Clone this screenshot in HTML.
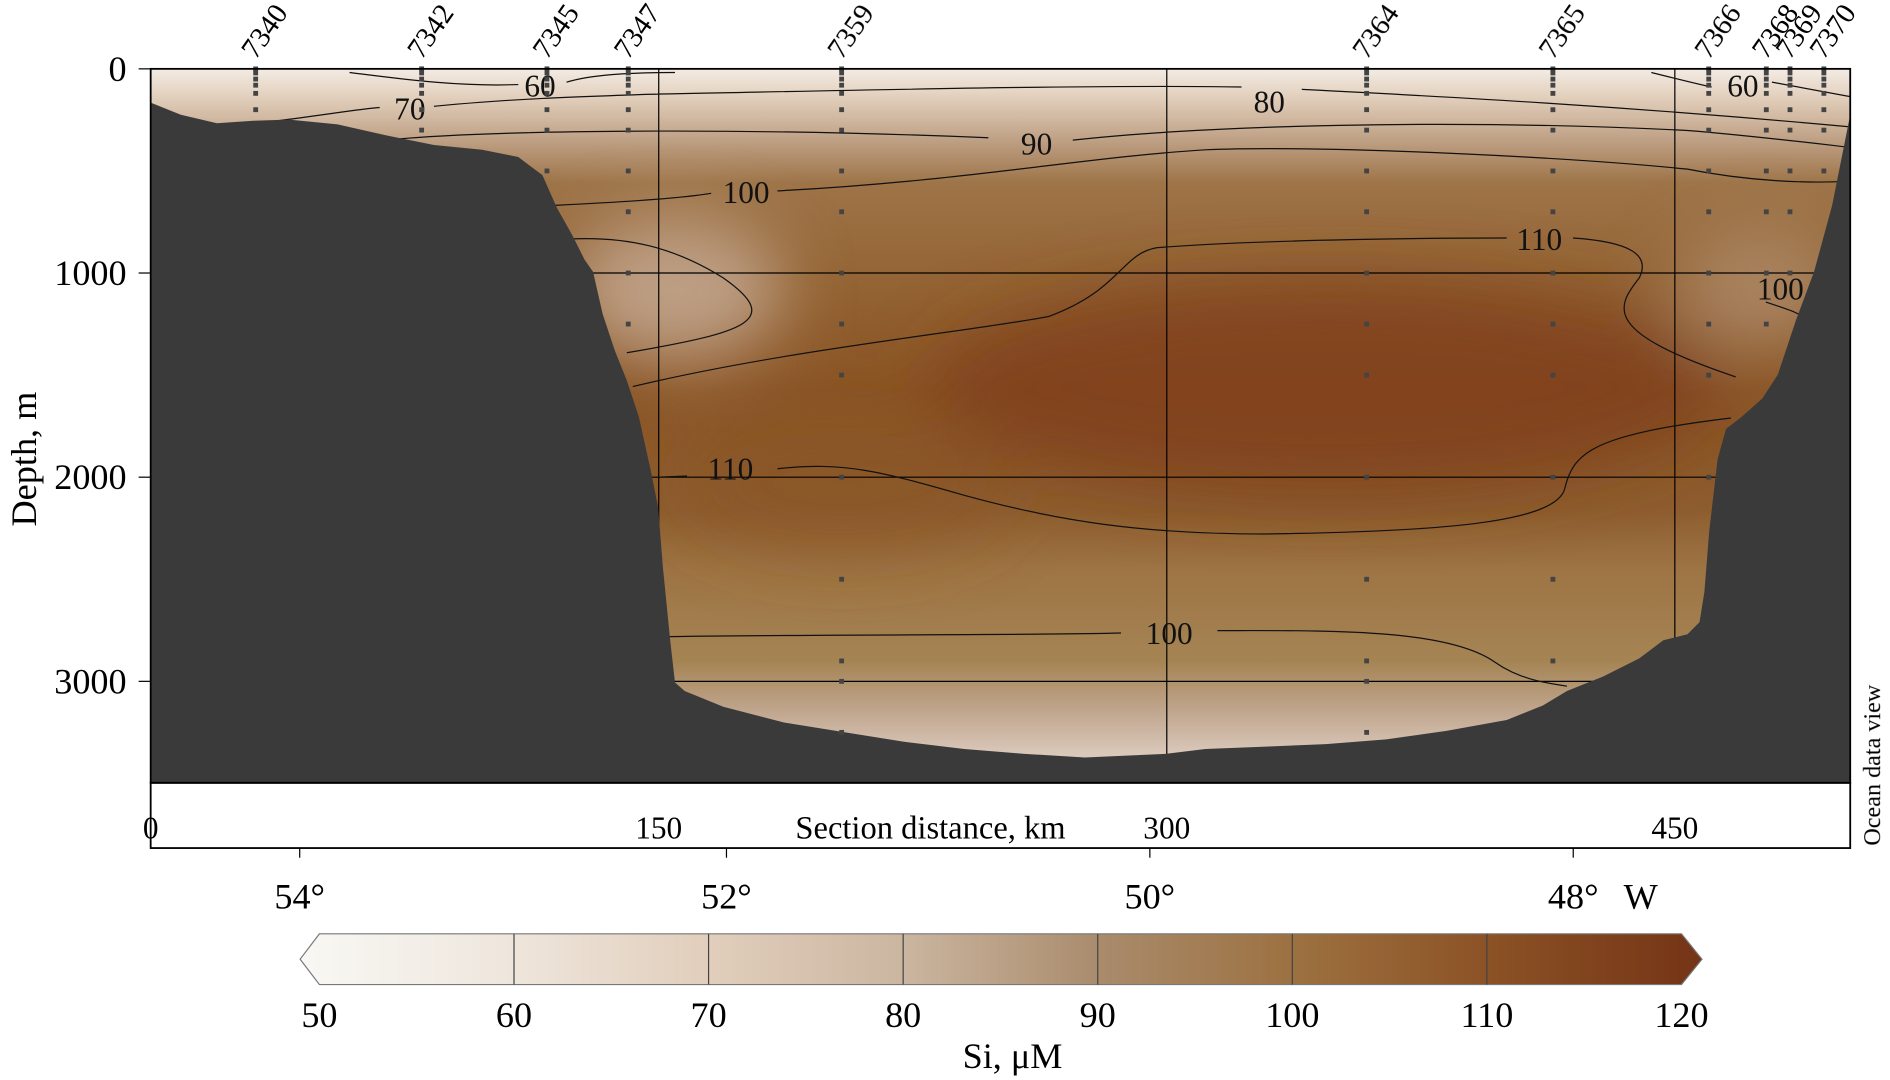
<!DOCTYPE html>
<html><head><meta charset="utf-8"><style>
html,body{margin:0;padding:0;background:#fff;}
svg{display:block;font-family:"Liberation Serif",serif;}
</style></head><body>
<svg id="chart" width="1890" height="1080" viewBox="0 0 1568 894" preserveAspectRatio="none" xmlns="http://www.w3.org/2000/svg">
<defs>
<clipPath id="plotClip"><rect x="125" y="57" width="1410" height="591"/></clipPath>
<filter id="blur" x="-20%" y="-20%" width="140%" height="140%"><feGaussianBlur stdDeviation="28"/></filter>
<linearGradient id="cbar" x1="0" x2="1" y1="0" y2="0">
<stop offset="0" stop-color="#f8f8f4"/><stop offset="0.143" stop-color="#efe7de"/>
<stop offset="0.286" stop-color="#e2cfbd"/><stop offset="0.429" stop-color="#cbb6a0"/>
<stop offset="0.571" stop-color="#a98b6c"/><stop offset="0.714" stop-color="#9c703f"/>
<stop offset="0.857" stop-color="#8a5024"/><stop offset="1" stop-color="#743416"/>
</linearGradient>
<linearGradient id="vgrad" x1="0" x2="0" y1="0" y2="1">
<stop offset="0" stop-color="#f3ece4"/><stop offset="0.04" stop-color="#e2cfbc"/>
<stop offset="0.1" stop-color="#bea084"/><stop offset="0.16" stop-color="#9e7448"/>
<stop offset="0.3" stop-color="#946434"/><stop offset="0.45" stop-color="#8a5424"/>
<stop offset="0.62" stop-color="#8e5e30"/><stop offset="0.7" stop-color="#9e7444"/>
<stop offset="0.83" stop-color="#a58454"/><stop offset="0.9" stop-color="#c0a68e"/>
<stop offset="0.96" stop-color="#dac8ba"/><stop offset="1" stop-color="#dccabc"/>
</linearGradient>
</defs>
<g id="field" clip-path="url(#plotClip)">
<rect x="125" y="57" width="1410" height="591" fill="url(#vgrad)"/>
<g filter="url(#blur)">
<ellipse cx="1100" cy="320" rx="330" ry="90" fill="#7d3f1a" opacity="0.75"/>
<ellipse cx="560" cy="240" rx="90" ry="60" fill="#c8ae98" opacity="0.8"/>
<ellipse cx="1460" cy="240" rx="70" ry="50" fill="#b89a7e" opacity="0.6"/>
<ellipse cx="700" cy="400" rx="140" ry="60" fill="#8a5226" opacity="0.5"/>
</g>
</g>
<g id="grid" stroke="#000" stroke-width="1"></g>
<g id="contours" fill="none" stroke="#111" stroke-width="1">
<path d="M290,60 C330,65 380,72 430,70"/><path d="M470,68 C490,62 520,60 560,60"/>
<path d="M1370,60 C1390,65 1410,70 1420,72"/><path d="M1470,68 L1535,80"/>
<path d="M230,100 C270,95 300,90 315,89"/><path d="M360,88 C420,82 480,80 540,78 C700,75 900,70 1030,72"/><path d="M1080,74 C1200,80 1350,88 1535,105"/>
<path d="M320,116 C400,108 600,105 820,114"/><path d="M890,116 C1000,104 1200,98 1400,108 C1450,112 1500,118 1535,122"/>
<path d="M460,170 C500,168 560,165 590,160"/><path d="M645,158 C800,150 900,130 1000,124 C1100,120 1300,130 1400,140 C1450,150 1500,152 1535,150"/>
<path d="M470,198 C520,195 560,205 600,230 C650,265 620,275 520,292"/>
<path d="M525,320 C650,290 800,275 870,262 C930,240 930,210 960,205 C1050,198 1200,197 1250,197"/><path d="M1305,197 C1350,200 1370,210 1360,230 C1340,255 1330,275 1440,312"/>
<path d="M1465,250 C1480,255 1490,258 1495,262"/>
<path d="M545,395 L570,394"/><path d="M645,388 C700,382 730,390 800,410 C880,432 950,442 1050,442 C1200,440 1290,432 1298,405 C1305,375 1320,360 1436,346"/>
<path d="M555,527 C700,525 850,526 930,524"/><path d="M1010,522 C1100,522 1200,520 1240,548 C1260,562 1280,565 1300,568"/>
</g>
<g id="contour-labels" font-size="26" fill="#111" text-anchor="middle">
<text x="448" y="80">60</text><text x="340" y="99">70</text><text x="1446" y="80">60</text>
<text x="1053" y="93">80</text><text x="860" y="128">90</text><text x="619" y="168">100</text>
<text x="1277" y="207">110</text><text x="1477" y="248">100</text><text x="606" y="397">110</text>
<text x="970" y="533">100</text>
</g>
<path id="bathy" fill="#3a3a3a" d="M125,85 L150,95 L180,102 L210,100 L240,99 L280,103 L320,112 L360,120 L400,124 L430,130 L450,145 L462,172 L475,195 L485,215 L492,225 L500,260 L510,290 L520,315 L530,345 L540,390 L546,420 L550,470 L556,530 L560,565 L568,572 L600,585 L650,598 L700,606 L750,614 L800,620 L850,624 L900,627 L967,624 L1000,620 L1050,618 L1100,616 L1150,612 L1200,605 L1250,596 L1280,584 L1300,572 L1330,560 L1360,545 L1380,530 L1400,525 L1410,515 L1414,490 L1418,440 L1425,380 L1432,355 L1445,345 L1462,330 L1475,310 L1490,265 L1505,225 L1520,170 L1535,95 L1535,648 L125,648 Z"/>
<g id="stations"></g>
<rect x="125" y="57" width="1410" height="591" fill="none" stroke="#000" stroke-width="1.5"/>
<rect x="125" y="648" width="1410" height="54" fill="none" stroke="#000" stroke-width="1.5"/>
<g id="yaxis" font-size="30" text-anchor="end"></g>
<text x="30" y="380" font-size="30" transform="rotate(-90 30 380)" text-anchor="middle">Depth, m</text>
<g id="xaxis" font-size="26" text-anchor="middle"></g>
<text x="772" y="694" font-size="27" text-anchor="middle">Section distance, km</text>
<text x="1560" y="700" font-size="20" transform="rotate(-90 1560 700)">Ocean data view</text>
<g id="lat" font-size="30" text-anchor="middle"></g>
<text x="1347" y="752" font-size="30">W</text>
<g id="colorbar">
<polygon points="265,773 1395,773 1412,794 1395,815 265,815 249,794" fill="url(#cbar)" stroke="#777" stroke-width="1"/>
</g>
<g id="cbticks" font-size="30" text-anchor="middle"></g>
<text x="840" y="884" font-size="30" text-anchor="middle">Si, μM</text>
</svg>
<script>
const NS='http://www.w3.org/2000/svg';
const stationNames=['7340','7342','7345','7347','7359','7364','7365','7366','7368','7369','7370'];
const stationKm=[31,80,117,141,204,359,414,460,477,484,494];
const stationBottom=[220,380,500,1300,3250,3300,2900,2000,1350,1000,600];
const sampleDepths=[0,20,50,80,120,200,300,500,700,1000,1250,1500,2000,2500,2900,3000,3250];
const depthTicks=[0,1000,2000,3000];
const kmTicks=[0,150,300,450];
const latLabels=['54°','52°','50°','48°'];
const latKm=[44,170,295,420];
const cbTicks=[50,60,70,80,90,100,110,120];
const X=km=>125+km*2.81;
const Y=d=>57+d*0.169;
const C=v=>265+(v-50)/70*1130;
function mk(tag,attrs,parent,txt){const e=document.createElementNS(NS,tag);for(const k in attrs)e.setAttribute(k,attrs[k]);if(txt!==undefined)e.textContent=txt;parent.appendChild(e);return e;}
const grid=document.getElementById('grid');
kmTicks.slice(1).forEach(k=>{const l=mk('line',{x1:X(k),x2:X(k),y1:57,y2:648},grid);

});
depthTicks.slice(1).forEach(d=>{const l=mk('line',{x1:125,x2:1535,y1:Y(d),y2:Y(d)},grid);

});
const st=document.getElementById('stations');
stationNames.forEach((n,i)=>{const x=X(stationKm[i]);
sampleDepths.filter(d=>d<=stationBottom[i]).forEach(d=>{const c=mk('rect',{x:x-2,y:Y(d)-2,width:4,height:4,fill:'#444'},st);

});
const t=mk('text',{x:x,y:50,'font-size':24,transform:`rotate(-55 ${x} 50)`},st,n);

});
const ya=document.getElementById('yaxis');
depthTicks.forEach(d=>{const t=mk('text',{x:105,y:Y(d)+10},ya,String(d));


mk('line',{x1:115,x2:125,y1:Y(d),y2:Y(d),stroke:'#000'},ya);});
const xa=document.getElementById('xaxis');
kmTicks.forEach(k=>{const t=mk('text',{x:X(k),y:694},xa,String(k));

});
const la=document.getElementById('lat');
latLabels.forEach((s,i)=>{const t=mk('text',{x:X(latKm[i]),y:752},la,s);


mk('line',{x1:X(latKm[i]),x2:X(latKm[i]),y1:702,y2:710,stroke:'#000'},la);});
const cb=document.getElementById('cbticks');
cbTicks.forEach(v=>{const t=mk('text',{x:C(v),y:850},cb,String(v));


if(v>50&&v<120)mk('line',{x1:C(v),x2:C(v),y1:773,y2:815,stroke:'#444','stroke-width':1},cb);});
</script>
</body></html>
